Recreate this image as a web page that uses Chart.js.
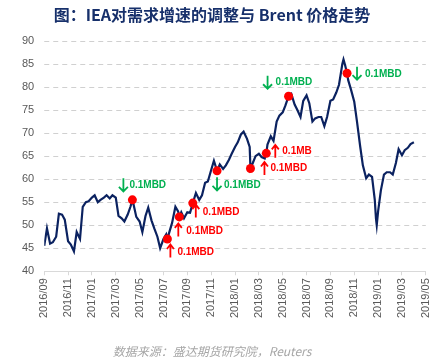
<!DOCTYPE html>
<html>
<head>
<meta charset="utf-8">
<script src="https://cdn.jsdelivr.net/npm/chart.js@4/dist/chart.umd.min.js"></script>
<style>
  html, body { margin: 0; padding: 0; background: #fff; }
  #wrap { position: relative; width: 442px; height: 360px; }
  #title {
    position: absolute; left: 0; top: 3px; width: 424px; text-align: center;
    font: bold 16px "Noto Sans CJK SC", sans-serif; color: #17306b; line-height: 22px;
  }
  #source {
    position: absolute; left: 0; top: 342px; width: 424px; text-align: center;
    font: italic 12px "Noto Sans CJK SC", sans-serif; color: #a6a6a6; line-height: 18px;
  }
</style>
</head>
<body>
<div id="wrap">
  <canvas id="chart" width="442" height="360"></canvas>
  <div id="title">图：IEA对需求增速的调整与 Brent 价格走势</div>
  <div id="source">数据来源：盛达期货研究院，Reuters</div>
</div>
<script>
// Brent (roughly weekly)
const dates = [
  '2016-09-01','2016-09-08','2016-09-16','2016-09-23',
  '2016-10-01','2016-10-08','2016-10-16','2016-10-23',
  '2016-11-01','2016-11-08','2016-11-16','2016-11-23',
  '2016-12-01','2016-12-08','2016-12-16','2016-12-23',
  '2017-01-01','2017-01-08','2017-01-16','2017-01-23',
  '2017-02-01','2017-02-08','2017-02-16','2017-02-23',
  '2017-03-01','2017-03-08','2017-03-16','2017-03-23',
  '2017-04-01','2017-04-08','2017-04-13','2017-04-16','2017-04-23',
  '2017-05-01','2017-05-08','2017-05-16','2017-05-23',
  '2017-06-01','2017-06-08','2017-06-16','2017-06-23',
  '2017-07-01','2017-07-08','2017-07-11','2017-07-16','2017-07-23',
  '2017-08-01','2017-08-08','2017-08-11','2017-08-16','2017-08-23',
  '2017-09-01','2017-09-08','2017-09-15','2017-09-23',
  '2017-10-01','2017-10-08','2017-10-16','2017-10-23',
  '2017-11-01','2017-11-08','2017-11-16','2017-11-23',
  '2017-12-01','2017-12-08','2017-12-16','2017-12-23',
  '2018-01-01','2018-01-08','2018-01-16','2018-01-23',
  '2018-02-01','2018-02-08','2018-02-10','2018-02-16','2018-02-23',
  '2018-03-01','2018-03-08','2018-03-16','2018-03-20','2018-03-23',
  '2018-04-01','2018-04-08','2018-04-16','2018-04-23',
  '2018-05-01','2018-05-08','2018-05-16','2018-05-23',
  '2018-06-01','2018-06-08','2018-06-16','2018-06-23',
  '2018-07-01','2018-07-08','2018-07-16','2018-07-23',
  '2018-08-01','2018-08-08','2018-08-16','2018-08-23',
  '2018-09-01','2018-09-08','2018-09-16','2018-09-23',
  '2018-10-01','2018-10-04','2018-10-08','2018-10-13','2018-10-16','2018-10-23',
  '2018-11-01','2018-11-08','2018-11-16','2018-11-23',
  '2018-12-01','2018-12-08','2018-12-16','2018-12-23','2018-12-26','2018-12-28',
  '2019-01-01','2019-01-08','2019-01-16','2019-01-23',
  '2019-02-01','2019-02-08','2019-02-16','2019-02-23',
  '2019-03-01','2019-03-08','2019-03-16','2019-03-23',
  '2019-04-01'
];
const prices = [
  45.5, 49.3, 46, 46.3,
  47.5, 52.5, 52.3, 51.2,
  46.5, 45.8, 44.3, 48.5,
  47, 54, 55, 55.2,
  56, 56.5, 55, 55.5,
  56, 56.5, 55.8, 56.5,
  56, 52, 51.5, 50.8,
  52.3, 54, 55.5, 54.5, 51.8,
  50.8, 48.5, 52, 53.8,
  51, 49.3, 47.5, 45,
  47, 48, 47, 48.5, 50.5,
  54, 53, 51.8, 52.8, 51.5,
  52.8, 52.7, 54.8, 57,
  55.5, 56.5, 59.2, 59.5,
  62, 64, 61.8, 63.2,
  62.2, 63, 64.2, 65.5,
  67, 68, 69.7, 70.3,
  68.8, 67, 62.3, 63.5, 65,
  65.5, 64.8, 64.5, 65.6, 67.5,
  69.3, 68.3, 72.5, 73.8,
  74.5, 76, 78, 78.5,
  76.2, 75, 73.5, 77,
  78.2, 76.5, 72.5, 73.2,
  73.5, 73.5, 71.5, 73.5,
  77, 77.3, 78.8, 80.5,
  85, 86, 84.8, 83, 81.5, 79.5,
  76.8, 72.5, 67.2, 63,
  60.2, 61, 60.5, 55.5, 51.5, 50,
  53, 57.5, 61, 61.5,
  61.5, 61, 63.5, 66.5,
  65.2, 66.3, 66.8, 67.6,
  68
];

// IEA demand-growth revisions
const eventDates = ['2017-04-13','2017-07-11','2017-08-11','2017-09-15','2017-11-16','2018-02-10','2018-03-20','2018-05-16','2018-10-13'];
const eventPrices = [55.5, 47, 51.8, 54.8, 61.8, 62.3, 65.6, 78, 83];
const eventDirs = ['down','up','up','up','down','up','up','down','down'];
const eventTexts = ['0.1MBD','0.1MBD','0.1MBD','0.1MBD','0.1MBD','0.1MBD','0.1MB','0.1MBD','0.1MBD'];

const yTicks = [40, 45, 50, 55, 60, 65, 70, 75, 80, 85, 90];

// where each arrow / label sits relative to its dot (px)
const labelOffsets = [
  { ax: -9, ay: -15, tx: -3, ty: -15 },
  { ax: 3, ay: 12, tx: 10, ty: 13 },
  { ax: -1, ay: 13, tx: 7, ty: 14 },
  { ax: 3, ay: 8, tx: 10, ty: 9 },
  { ax: 0, ay: 13, tx: 7, ty: 14 },
  { ax: 14, ay: 0, tx: 20, ty: 0 },
  { ax: 9, ay: -2, tx: 16, ty: -2 },
  { ax: -21, ay: -14, tx: -13, ty: -14 },
  { ax: 10, ay: 0, tx: 18, ty: 1 }
];

const GREEN = '#00b050';
const RED = '#ff0000';

// months since 2016-09
function toMonths(s) {
  const [y, m, d] = s.split('-').map(Number);
  return (y - 2016) * 12 + (m - 9) + (d - 1) / 30.5;
}

function monthLabel(v) {
  const total = 8 + Math.round(v); // 2016/09 -> index 8
  const y = 2016 + Math.floor(total / 12);
  const m = (total % 12) + 1;
  return y + '/' + String(m).padStart(2, '0');
}

// dashed horizontal grid, drawn under the line
const dashedGrid = {
  id: 'dashedGrid',
  beforeDatasetsDraw(chart) {
    const { ctx, chartArea } = chart;
    const ys = chart.scales.y;
    ctx.save();
    ctx.strokeStyle = '#d0d0d0';
    ctx.lineWidth = 1;
    ctx.setLineDash([5, 4]);
    yTicks.slice(1).forEach(v => {
      const y = Math.round(ys.getPixelForValue(v)) + 0.5;
      ctx.beginPath();
      ctx.moveTo(chartArea.left, y);
      ctx.lineTo(chartArea.right, y);
      ctx.stroke();
    });
    ctx.restore();
  }
};

const annotate = {
  id: 'annotate',
  afterDatasetsDraw(chart) {
    const ctx = chart.ctx;
    const xs = chart.scales.x, ys = chart.scales.y;
    ctx.save();
    eventDates.forEach((d, i) => {
      const px = xs.getPixelForValue(toMonths(d));
      const py = ys.getPixelForValue(eventPrices[i]);
      const off = labelOffsets[i];
      const up = eventDirs[i] === 'up';
      const col = up ? RED : GREEN;
      const ax = px + off.ax, ay = py + off.ay;
      const hw = up ? 3.5 : 4.5;
      ctx.strokeStyle = col;
      ctx.lineWidth = 1.8;
      ctx.beginPath();
      ctx.moveTo(ax, ay - 6.5);
      ctx.lineTo(ax, ay + 6.5);
      if (up) {
        ctx.moveTo(ax - hw, ay - 2);
        ctx.lineTo(ax, ay - 6.5);
        ctx.lineTo(ax + hw, ay - 2);
      } else {
        ctx.moveTo(ax - hw, ay + 2);
        ctx.lineTo(ax, ay + 6.5);
        ctx.lineTo(ax + hw, ay + 2);
      }
      ctx.stroke();
      ctx.fillStyle = col;
      ctx.font = 'bold 10px "Liberation Sans", Arial, sans-serif';
      ctx.textAlign = 'left';
      ctx.textBaseline = 'middle';
      ctx.fillText(eventTexts[i], px + off.tx, py + off.ty);
    });
    ctx.restore();
  }
};

new Chart(document.getElementById('chart'), {
  type: 'line',
  data: {
    datasets: [
      {
        label: 'IEA',
        data: eventDates.map((d, i) => ({ x: toMonths(d), y: eventPrices[i] })),
        showLine: false,
        pointRadius: 4.5,
        pointBackgroundColor: RED,
        pointBorderWidth: 0,
        order: 0
      },
      {
        label: 'Brent',
        data: dates.map((d, i) => ({ x: toMonths(d), y: prices[i] })),
        borderColor: '#0b2260',
        borderWidth: 2.2,
        pointRadius: 0,
        tension: 0,
        order: 1
      }
    ]
  },
  options: {
    responsive: false,
    animation: false,
    layout: { padding: { left: 12, right: 12, top: 41, bottom: 39 } },
    plugins: {
      legend: { display: false },
      tooltip: { enabled: false }
    },
    scales: {
      x: {
        type: 'linear',
        min: 0,
        max: 32,
        grid: { drawOnChartArea: false, drawTicks: true, tickLength: 4, color: '#d9d9d9' },
        border: { color: '#d9d9d9', width: 1 },
        ticks: {
          stepSize: 2,
          maxRotation: 90,
          minRotation: 90,
          padding: 3,
          color: '#595959',
          font: { family: '"Liberation Sans", Arial, sans-serif', size: 11 },
          callback: v => monthLabel(v)
        }
      },
      y: {
        min: yTicks[0],
        max: yTicks[yTicks.length - 1],
        afterBuildTicks: s => { s.ticks = yTicks.map(v => ({ value: v })); },
        grid: { color: 'rgba(0,0,0,0)', drawTicks: false },
        border: { display: false },
        ticks: {
          padding: 10,
          color: '#595959',
          font: { family: '"Liberation Sans", Arial, sans-serif', size: 11 }
        }
      }
    }
  },
  plugins: [dashedGrid, annotate]
});
</script>
</body>
</html>
